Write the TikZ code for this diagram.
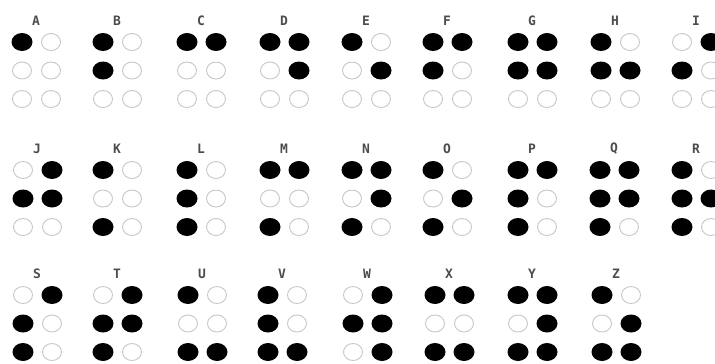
\documentclass[tikz,border=0pt]{standalone}
\usepackage{fontspec}
\newfontfamily\labfont{DejaVu Sans Mono}
\usetikzlibrary{shapes.geometric}
\tikzset{
  lab/.style={font=\labfont\bfseries\fontsize{13}{14}\selectfont, inner sep=0pt, text=black!70},
  fulldot/.style={ellipse, fill=black, draw=none, minimum width=21bp, minimum height=18bp, inner sep=0pt},
  emptydot/.style={ellipse, draw=black!22, line width=0.9bp, fill=none, minimum width=19bp, minimum height=17bp, inner sep=0pt}
}
\newcommand\brcell[4]{% name, left x, top dot y, flags
  \node[lab] (#1-lab) at (#2+14,#3-21.5) {#1};
  \foreach \f [count=\i] in {#4} {
    \pgfmathtruncatemacro\cc{(\i-1)/3}
    \pgfmathtruncatemacro\rr{mod(\i-1,3)}
    \ifnum\f=1
      \node[fulldot] (#1\i) at (#2+29*\cc,#3+28.5*\rr) {};
    \else
      \node[emptydot] (#1\i) at (#2+29*\cc,#3+28.5*\rr) {};
    \fi
  }
}
\begin{document}
\begin{tikzpicture}[x=1bp,y=-1bp]
\fill[white] (0,0) rectangle (715,363);
\useasboundingbox (0,0) rectangle (715,363);
% row 1
\brcell{A}{22}{42}{1,0,0,0,0,0}
\brcell{B}{103}{42}{1,1,0,0,0,0}
\brcell{C}{187}{42}{1,0,0,1,0,0}
\brcell{D}{270}{42}{1,0,0,1,1,0}
\brcell{E}{352}{42}{1,0,0,0,1,0}
\brcell{F}{433}{42}{1,1,0,1,0,0}
\brcell{G}{518}{42}{1,1,0,1,1,0}
\brcell{H}{601}{42}{1,1,0,0,1,0}
\brcell{I}{682}{42}{0,1,0,1,0,0}
% row 2
\brcell{J}{23}{170}{0,1,0,1,1,0}
\brcell{K}{103}{170}{1,0,1,0,0,0}
\brcell{L}{187}{170}{1,1,1,0,0,0}
\brcell{M}{270}{170}{1,0,1,1,0,0}
\brcell{N}{352}{170}{1,0,1,1,1,0}
\brcell{O}{433}{170}{1,0,1,0,1,0}
\brcell{P}{518}{170}{1,1,1,1,0,0}
\brcell{Q}{600}{170}{1,1,1,1,1,0}
\brcell{R}{682}{170}{1,1,1,0,1,0}
% row 3
\brcell{S}{23}{295}{0,1,1,1,0,0}
\brcell{T}{103}{295}{0,1,1,1,1,0}
\brcell{U}{188}{295}{1,0,1,0,0,1}
\brcell{V}{268}{295}{1,1,1,0,0,1}
\brcell{W}{353}{295}{0,1,0,1,1,1}
\brcell{X}{435}{295}{1,0,1,1,0,1}
\brcell{Y}{518}{295}{1,0,1,1,1,1}
\brcell{Z}{602}{295}{1,0,1,0,1,1}
\end{tikzpicture}
\end{document}
